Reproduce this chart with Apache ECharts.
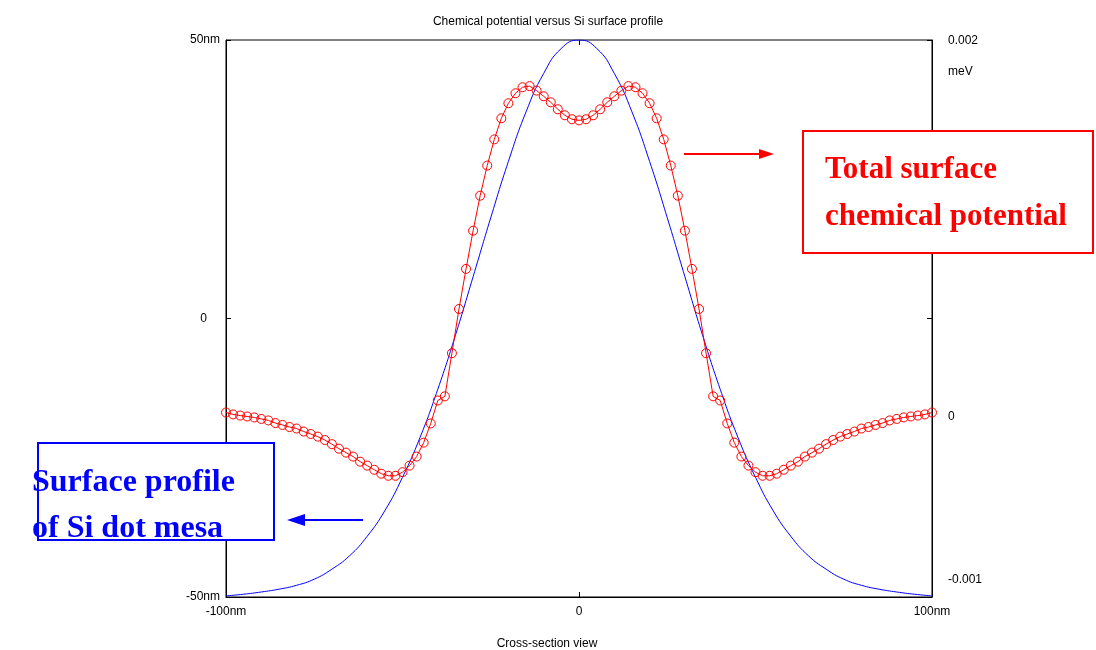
<!DOCTYPE html>
<html>
<head>
<meta charset="utf-8">
<script src="https://cdn.jsdelivr.net/npm/echarts@6/dist/echarts.min.js"></script>
<style>html,body{margin:0;padding:0;background:#fff;}#c{width:1096px;height:650px;}</style>
</head>
<body>
<div id="c"></div>
<script>
// Surface profile (nm) vs cross-section position (nm)
const profileX = [-100,-95,-90,-85,-80,-75,-70,-65,-60,-55,-50,-45,-40,-35,-30,-25,-20,-15,-10,-5,0,
  5,10,15,20,25,30,35,40,45,50,55,60,65,70,75,80,85,90,95,100];
const profileY = [-49.8,-49.5,-49.1,-48.6,-47.9,-46.8,-45.0,-42.6,-39.1,-34.5,-28.5,-21.3,-12.7,-3.0,7.5,18.1,28.2,37.1,44.0,48.5,50.0,
  48.5,44.0,37.1,28.2,18.1,7.5,-3.0,-12.7,-21.3,-28.5,-34.5,-39.1,-42.6,-45.0,-46.8,-47.9,-48.6,-49.1,-49.5,-49.8];

// Total surface chemical potential (meV) vs position (nm)
const potentialX = [-100,-98,-96,-94,-92,-90,-88,-86,-84,-82,-80,-78,-76,-74,-72,-70,-68,-66,-64,-62,
  -60,-58,-56,-54,-52,-50,-48,-46,-44,-42,-40,-38,-36,-34,-32,-30,-28,-26,-24,-22,
  -20,-18,-16,-14,-12,-10,-8,-6,-4,-2,0,
  2,4,6,8,10,12,14,16,18,20,22,24,26,28,30,32,34,36,38,40,
  42,44,46,48,50,52,54,56,58,60,62,64,66,68,70,72,74,76,78,80,
  82,84,86,88,90,92,94,96,98,100];
const potentialY = [0.021e-3,0.011e-3,0.005e-3,0,-0.005e-3,-0.013e-3,-0.021e-3,-0.035e-3,-0.045e-3,-0.056e-3,
  -0.064e-3,-0.080e-3,-0.093e-3,-0.107e-3,-0.125e-3,-0.147e-3,-0.171e-3,-0.192e-3,-0.213e-3,-0.240e-3,
  -0.261e-3,-0.283e-3,-0.304e-3,-0.315e-3,-0.315e-3,-0.296e-3,-0.261e-3,-0.213e-3,-0.139e-3,-0.037e-3,
  0.085e-3,0.107e-3,0.336e-3,0.571e-3,0.784e-3,0.987e-3,1.173e-3,1.333e-3,1.472e-3,1.584e-3,
  1.664e-3,1.717e-3,1.749e-3,1.755e-3,1.731e-3,1.701e-3,1.669e-3,1.632e-3,1.600e-3,1.579e-3,
  1.573e-3,
  1.579e-3,1.600e-3,1.632e-3,1.669e-3,1.701e-3,1.731e-3,1.755e-3,1.749e-3,1.717e-3,1.664e-3,
  1.584e-3,1.472e-3,1.333e-3,1.173e-3,0.987e-3,0.784e-3,0.571e-3,0.336e-3,0.107e-3,0.085e-3,
  -0.037e-3,-0.139e-3,-0.213e-3,-0.261e-3,-0.296e-3,-0.315e-3,-0.315e-3,-0.304e-3,-0.283e-3,-0.261e-3,
  -0.240e-3,-0.213e-3,-0.192e-3,-0.171e-3,-0.147e-3,-0.125e-3,-0.107e-3,-0.093e-3,-0.080e-3,-0.064e-3,
  -0.056e-3,-0.045e-3,-0.035e-3,-0.021e-3,-0.013e-3,-0.005e-3,0,0.005e-3,0.011e-3,0.021e-3];

const xTicks = {'-100':'-100nm','0':'0','100':'100nm'};
const leftTicks = {'50':'50nm','0':'{z|0}','-50':'-50nm'};
const rightLabels = [['0.002',42],['meV',73],['0',418],['-0.001',581]];

const FONT = '"Liberation Sans", Arial, sans-serif';
const SERIF = '"Liberation Serif", "Times New Roman", serif';

const chart = echarts.init(document.getElementById('c'), null, {renderer:'canvas'});

const graphics = [];
rightLabels.forEach(function(l){
  graphics.push({type:'text', left:948, top:l[1]-7, style:{text:l[0], font:'12px '+FONT, fill:'#000'}});
});
// red annotation box
graphics.push({type:'rect', shape:{x:803,y:131,width:290,height:122}, style:{fill:'#fff', stroke:'#ff0000', lineWidth:2}, z:10});
graphics.push({type:'text', x:825, y:170, style:{text:'Total surface', font:'bold 31px '+SERIF, fill:'#ff0000', textVerticalAlign:'middle'}, z:11});
graphics.push({type:'text', x:825, y:217, style:{text:'chemical potential', font:'bold 31px '+SERIF, fill:'#ff0000', textVerticalAlign:'middle'}, z:11});
graphics.push({type:'line', shape:{x1:684,y1:154,x2:762,y2:154}, style:{stroke:'#ff0000', lineWidth:2}, z:11});
graphics.push({type:'polygon', shape:{points:[[759,149],[774,154],[759,159]]}, style:{fill:'#ff0000'}, z:11});
// blue annotation box
graphics.push({type:'rect', shape:{x:38,y:443,width:236,height:97}, style:{fill:'#fff', stroke:'#0000ff', lineWidth:2}, z:10});
graphics.push({type:'text', x:32, y:483, style:{text:'Surface profile', font:'bold 32px '+SERIF, fill:'#0000ff', textVerticalAlign:'middle'}, z:11});
graphics.push({type:'text', x:32, y:529, style:{text:'of Si dot mesa', font:'bold 32px '+SERIF, fill:'#0000ff', textVerticalAlign:'middle'}, z:11});
graphics.push({type:'line', shape:{x1:304,y1:520,x2:363,y2:520}, style:{stroke:'#0000ff', lineWidth:2}, z:11});
graphics.push({type:'polygon', shape:{points:[[305,514],[287,520],[305,526]]}, style:{fill:'#0000ff'}, z:11});

const option = {
  animation:false,
  backgroundColor:'#fff',
  title:{text:'Chemical potential versus Si surface profile', left:'center', top:11,
    textStyle:{fontSize:12, fontWeight:'normal', color:'#000', fontFamily:FONT}},
  grid:{left:226, top:40, width:706, height:557, show:true, borderColor:'#000', borderWidth:1,
    backgroundColor:'transparent', containLabel:false, outerBoundsMode:'none'},
  xAxis:[{
    type:'value', min:-100, max:100, interval:100, position:'bottom',
    axisLine:{show:true, onZero:false, lineStyle:{color:'#000'}},
    axisTick:{show:true, inside:true, length:5, lineStyle:{color:'#000'}},
    splitLine:{show:false},
    axisLabel:{margin:9, fontSize:12, color:'#000', fontFamily:FONT, formatter:function(v){return xTicks[String(v)];}},
    name:'Cross-section view', nameLocation:'middle', nameGap:41,
    nameTextStyle:{fontSize:12, color:'#000', fontFamily:FONT, padding:[0,64,0,0]}
  },{
    type:'value', min:-100, max:100, interval:100, position:'top',
    axisLine:{show:false, onZero:false}, axisLabel:{show:false}, splitLine:{show:false},
    axisTick:{show:true, inside:true, length:5, lineStyle:{color:'#000'}}
  }],
  yAxis:[{
    type:'value', min:-50, max:50, interval:50, position:'left',
    axisLine:{show:true, onZero:false, lineStyle:{color:'#000'}},
    axisTick:{show:true, inside:true, length:5, lineStyle:{color:'#000'}},
    splitLine:{show:false},
    axisLabel:{margin:6, fontSize:12, color:'#000', fontFamily:FONT,
      formatter:function(v){return leftTicks[String(v)];},
      rich:{z:{fontSize:12, color:'#000', fontFamily:FONT, padding:[0,13,0,0]}}}
  },{
    type:'value', min:-0.959e-3, max:0.002, position:'right',
    axisLine:{show:true, onZero:false, lineStyle:{color:'#000'}},
    axisTick:{show:false}, axisLabel:{show:false}, splitLine:{show:false}
  },{
    type:'value', min:-50, max:50, interval:50, position:'right',
    axisLine:{show:false, onZero:false}, axisLabel:{show:false}, splitLine:{show:false},
    axisTick:{show:true, inside:true, length:5, lineStyle:{color:'#000'}}
  }],
  series:[{
    name:'Surface profile', type:'line', xAxisIndex:0, yAxisIndex:0,
    data: profileX.map(function(x,i){return [x, profileY[i]];}),
    smooth:true, showSymbol:false, symbol:'none',
    lineStyle:{color:'#0000ff', width:1}, z:2
  },{
    name:'Total surface chemical potential', type:'line', xAxisIndex:0, yAxisIndex:1,
    data: potentialX.map(function(x,i){return [x, potentialY[i]];}),
    symbol:'circle', symbolSize:9, showSymbol:true, clip:false,
    itemStyle:{color:'rgba(255,255,255,0)', borderColor:'#ff0000', borderWidth:1, opacity:1},
    lineStyle:{color:'#ff0000', width:1}, z:3
  }],
  graphic: graphics
};
chart.setOption(option);
</script>
</body>
</html>
